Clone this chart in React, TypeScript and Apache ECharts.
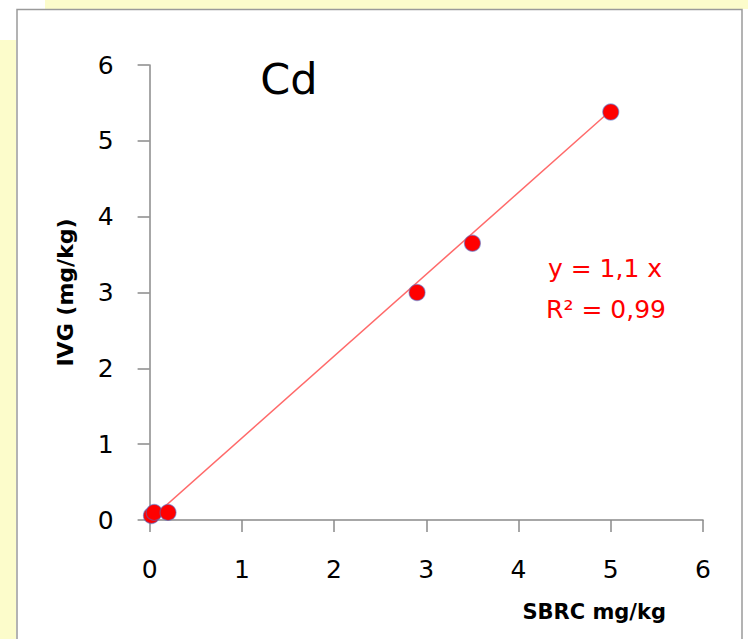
import React, { useEffect, useRef } from "react";
import * as echarts from "echarts";

const xValues = [0.02, 0.05, 0.2, 2.9, 3.5, 5.0];
const yValues = [0.06, 0.1, 0.1, 3.0, 3.65, 5.38];
const trendSlope = 1.08;
const trendRange = [0.02, 5.0];
const tickValues = [0, 1, 2, 3, 4, 5, 6];
const chartTitle = "Cd";
const xName = "SBRC mg/kg";
const yName = "IVG (mg/kg)";
const eqLine1 = "y = 1,1 x";
const eqLine2 = "R² = 0,99";

export default function App() {
  const ref = useRef<HTMLDivElement>(null);
  useEffect(() => {
    if (!ref.current) return;
    const chart = echarts.init(ref.current, null, { renderer: "svg" });
    const font = "DejaVu Sans";
    const points = xValues.map((x, i) => [x, yValues[i]]);
    const trend = trendRange.map((x) => [x, x * trendSlope]);
    chart.setOption({
      animation: false,
      backgroundColor: "#ffffff",
      textStyle: { fontFamily: font },
      graphic: [
        { type: "rect", z: -10, shape: { x: 45, y: 0, width: 703, height: 9 }, style: { fill: "#FCFCCB" } },
        { type: "rect", z: -10, shape: { x: 0, y: 40, width: 16, height: 600 }, style: { fill: "#FCFCCB" } },
        { type: "rect", z: -9, shape: { x: 17, y: 9.5, width: 725, height: 640 }, style: { fill: "#ffffff", stroke: "#9a9a9a", lineWidth: 1.5 } },
        { type: "text", x: 289, y: 79, style: { text: chartTitle, font: `43px '${font}'`, fill: "#000", align: "center", verticalAlign: "middle" } },
        { type: "text", x: 605, y: 268, style: { text: eqLine1, font: `25px '${font}'`, fill: "#FF0000", align: "center", verticalAlign: "middle" } },
        { type: "text", x: 606, y: 309, style: { text: eqLine2, font: `25px '${font}'`, fill: "#FF0000", align: "center", verticalAlign: "middle" } },
      ],
      grid: { left: 149.6, right: 45, top: 65, bottom: 119 },
      xAxis: {
        type: "value",
        min: 0,
        max: 6,
        interval: 1,
        name: xName,
        nameLocation: "end",
        nameGap: 0,
        nameTextStyle: { fontFamily: font, fontWeight: "bold", fontSize: 21, color: "#000", align: "right", verticalAlign: "top", padding: [81, 37, 0, 0] },
        axisLine: { show: true, onZero: false, lineStyle: { color: "#8a8a8a", width: 1.5 } },
        axisTick: { show: true, inside: false, length: 12, lineStyle: { color: "#8a8a8a", width: 1.5 } },
        axisLabel: { fontSize: 25, color: "#000", margin: 37, fontFamily: font, formatter: (v: number) => (tickValues.includes(v) ? String(v) : "") },
        splitLine: { show: false },
      },
      yAxis: {
        type: "value",
        min: 0,
        max: 6,
        interval: 1,
        name: yName,
        nameLocation: "middle",
        nameRotate: 90,
        nameGap: 73,
        nameTextStyle: { fontFamily: font, fontWeight: "bold", fontSize: 22, color: "#000" },
        axisLine: { show: true, onZero: false, lineStyle: { color: "#8a8a8a", width: 1.5 } },
        axisTick: { show: true, inside: false, length: 12, lineStyle: { color: "#8a8a8a", width: 1.5 } },
        axisLabel: { fontSize: 25, color: "#000", margin: 36, fontFamily: font },
        splitLine: { show: false },
      },
      series: [
        {
          type: "line",
          data: trend,
          showSymbol: false,
          symbol: "none",
          lineStyle: { color: "#FF6A6A", width: 1.5 },
          z: 2,
        },
        {
          type: "scatter",
          data: points,
          symbolSize: 16,
          itemStyle: { color: "#FF0000", borderColor: "rgba(80,110,200,0.55)", borderWidth: 1.2, opacity: 1 },
          z: 3,
        },
      ],
    });
    return () => chart.dispose();
  }, []);
  return <div ref={ref} style={{ position: "fixed", left: 0, top: 0, width: 748, height: 639 }} />;
}
